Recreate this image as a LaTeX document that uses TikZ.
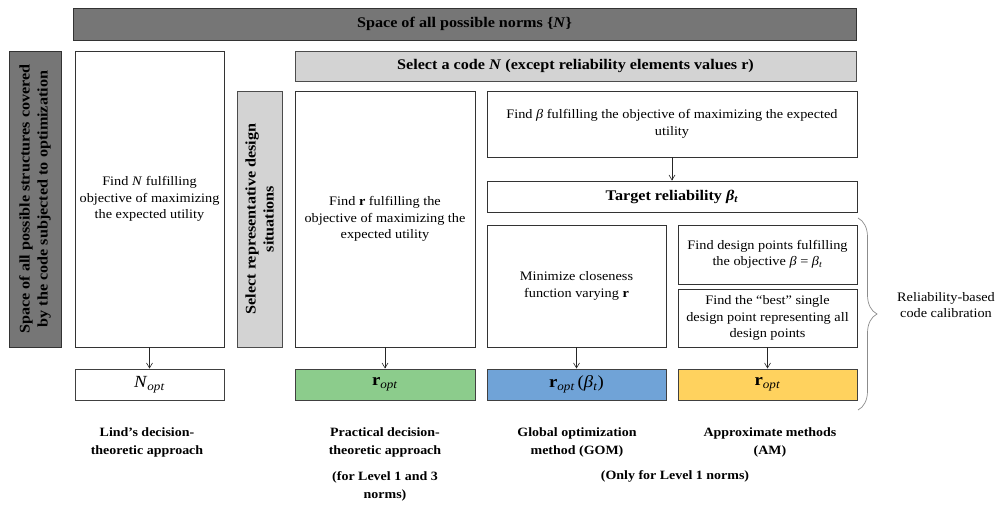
\documentclass[tikz,border=0pt]{standalone}
\usepackage{fontspec}
\setmainfont[FakeStretch=1.1]{Liberation Serif}
\usetikzlibrary{arrows.meta, decorations.pathreplacing}
\definecolor{barDark}{HTML}{767676}
\definecolor{barLight}{HTML}{D3D3D3}
\definecolor{resGreen}{HTML}{8CCC8C}
\definecolor{resBlue}{HTML}{70A3D7}
\definecolor{resYellow}{HTML}{FFD25E}
\newcommand{\bodyfont}{\fontsize{13}{16.5}\selectfont}
\newcommand{\headfont}{\fontsize{14.7}{18}\selectfont\bfseries}
\newcommand{\resfont}{\fontsize{17}{20}\selectfont}
\newcommand{\captfont}{\fontsize{12.7}{18}\selectfont\bfseries}
\newcommand{\betaT}{\textit{β}\textsubscript{\textit{t}}}
\tikzset{
  plain box/.style={draw=black!80, line width=0.9pt, fill=white, inner sep=2pt, align=center, font=\bodyfont},
  dark bar/.style={draw=black!80, line width=0.9pt, fill=barDark, inner sep=2pt, align=center, font=\headfont},
  light bar/.style={draw=black!70, line width=0.9pt, fill=barLight, inner sep=2pt, align=center, font=\headfont},
  result box/.style={draw=black!75, line width=1pt, inner sep=0pt, font=\resfont},
  flow arrow/.style={-{Straight Barb[length=5pt, width=6pt]}, line width=0.6pt, black!85},
  brace line/.style={decorate, decoration={brace, amplitude=19pt}, line width=0.7pt, black!45},
  caption text/.style={font=\captfont, align=center},
}

\begin{document}
\begin{tikzpicture}[x=1pt, y=-1pt]
  \useasboundingbox (0,0) rectangle (996,506);
  % bars
  \node[dark bar, minimum width=783pt, minimum height=32pt] (normspace) at (464.5,24) {Space of all possible norms \{\textit{N}\}};
  \node[dark bar, rotate=90, minimum width=296pt, minimum height=52pt] (structspace) at (35,199)
    {Space of all possible structures covered\\by the code subjected to optimization};
  \node[light bar, minimum width=561pt, minimum height=30pt] (selcode) at (575.5,66)
    {Select a code \textit{N} (except reliability elements values \textbf{r})};
  \node[light bar, rotate=90, minimum width=256pt, minimum height=45pt] (selrep) at (259.5,219)
    {Select representative design\\situations};
  % Lind
  \node[plain box, minimum width=149pt, minimum height=296pt] (lind) at (149.5,199)
    {Find \textit{N} fulfilling\\objective of maximizing\\the expected utility};
  \node[result box, fill=white, minimum width=149pt, minimum height=31pt] (nopt) at (149.5,384.5)
    {\textit{N}\textsubscript{\textit{opt}}};
  % practical
  \node[plain box, minimum width=180pt, minimum height=256pt] (pract) at (385,219)
    {Find \textbf{r} fulfilling the\\objective of maximizing the\\expected utility};
  \node[result box, fill=resGreen, minimum width=180pt, minimum height=31pt] (roptpract) at (385,384.5)
    {\textbf{r}\textsubscript{\textit{opt}}};
  % reliability based
  \node[plain box, minimum width=370pt, minimum height=66pt] (findbeta) at (672,124)
    {Find \textit{β} fulfilling the objective of maximizing the expected\\utility};
  \node[plain box, font=\headfont, minimum width=370pt, minimum height=31pt] (target) at (672,196.5)
    {Target reliability \textit{β}\textsubscript{\textit{t}}};
  \node[plain box, minimum width=179pt, minimum height=122pt] (minim) at (576.5,286)
    {Minimize closeness\\function varying \textbf{r}};
  \node[plain box, minimum width=179pt, minimum height=59pt] (finddp) at (767.5,254.5)
    {Find design points fulfilling\\the objective \textit{β} = \betaT};
  \node[plain box, minimum width=179pt, minimum height=58pt] (findbest) at (767.5,318)
    {Find the ``best'' single\\design point representing all\\design points};
  \node[result box, fill=resBlue, minimum width=179pt, minimum height=31pt] (roptgom) at (576.5,384.5)
    {\textbf{r}\textsubscript{\textit{opt}}\,(\betaT)};
  \node[result box, fill=resYellow, minimum width=179pt, minimum height=31pt] (roptam) at (767.5,384.5)
    {\textbf{r}\textsubscript{\textit{opt}}};
  % arrows
  \draw[flow arrow] (lind) -- (nopt);
  \draw[flow arrow] (pract) -- (roptpract);
  \draw[flow arrow] (findbeta) -- (target);
  \draw[flow arrow] (minim) -- (roptgom);
  \draw[flow arrow] (findbest) -- (roptam);
  % brace
  \coordinate (bracetop) at (858,218);
  \coordinate (bracebot) at (858,410);
  \draw[brace line] (bracetop) -- (bracebot);
  \node[font=\bodyfont, align=center] (calib) at (946,305) {Reliability-based\\code calibration};
  % captions
  \node[caption text] (lindcap) at (147,442) {Lind’s decision-\\theoretic approach};
  \node[caption text] (praccap) at (385,442) {Practical decision-\\theoretic approach};
  \node[caption text] (pracnote) at (385,486) {(for Level 1 and 3\\norms)};
  \node[caption text] (gomcap) at (577,442) {Global optimization\\method (GOM)};
  \node[caption text] (amcap) at (770,442) {Approximate methods\\(AM)};
  \node[caption text] (levelnote) at (675,476) {(Only for Level 1 norms)};
\end{tikzpicture}
\end{document}
